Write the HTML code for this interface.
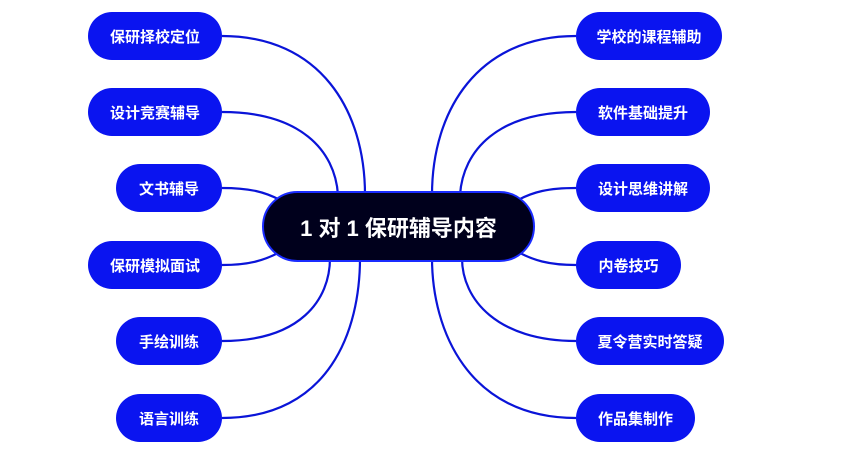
<!DOCTYPE html>
<html><head><meta charset="utf-8"><style>
body{margin:0;width:860px;height:459px;background:#fff;overflow:hidden;position:relative;font-family:"Liberation Sans","Noto Sans CJK SC",sans-serif}
.n{position:absolute;background:#0a14f0;color:#fff;border-radius:24px;height:48px;display:flex;align-items:center;justify-content:center;font-weight:bold;font-size:15px;box-sizing:border-box}
.c{position:absolute;left:262px;top:191px;width:273px;height:71px;background:#00001c;border:2px solid #1a2cff;border-radius:36px;box-sizing:border-box;color:#fff;font-weight:bold;font-size:22px;display:flex;align-items:center;justify-content:center}
svg{position:absolute;left:0;top:0}
</style></head><body>
<svg width="860" height="459"><g fill="none" stroke="#0a14d8" stroke-width="2.2">
<path d="M222,36 C320,36 365,110 365,195"/>
<path d="M222,112 C300,112 335,150 338,195"/>
<path d="M222,188 C250,188 265,192 280,200"/>
<path d="M222,265 C250,265 265,260 280,252"/>
<path d="M222,341 C300,341 330,300 330,258"/>
<path d="M222,418 C330,418 360,330 360,258"/>
<path d="M576,36 C478,36 432,110 432,195"/>
<path d="M576,112 C498,112 463,150 460,195"/>
<path d="M576,188 C548,188 533,192 518,200"/>
<path d="M576,265 C548,265 533,260 518,252"/>
<path d="M576,341 C498,341 462,300 462,258"/>
<path d="M576,418 C468,418 432,330 432,258"/>
</g></svg>
<div class="n" style="left:88px;top:12px;width:134px">保研择校定位</div>
<div class="n" style="left:88px;top:88px;width:134px">设计竞赛辅导</div>
<div class="n" style="left:116px;top:164px;width:106px">文书辅导</div>
<div class="n" style="left:88px;top:241px;width:134px">保研模拟面试</div>
<div class="n" style="left:116px;top:317px;width:106px">手绘训练</div>
<div class="n" style="left:116px;top:394px;width:106px">语言训练</div>
<div class="n" style="left:576px;top:12px;width:146px">学校的课程辅助</div>
<div class="n" style="left:576px;top:88px;width:134px">软件基础提升</div>
<div class="n" style="left:576px;top:164px;width:134px">设计思维讲解</div>
<div class="n" style="left:576px;top:241px;width:105px">内卷技巧</div>
<div class="n" style="left:576px;top:317px;width:148px">夏令营实时答疑</div>
<div class="n" style="left:576px;top:394px;width:119px">作品集制作</div>
<div class="c">1 对 1 保研辅导内容</div>
</body></html>
